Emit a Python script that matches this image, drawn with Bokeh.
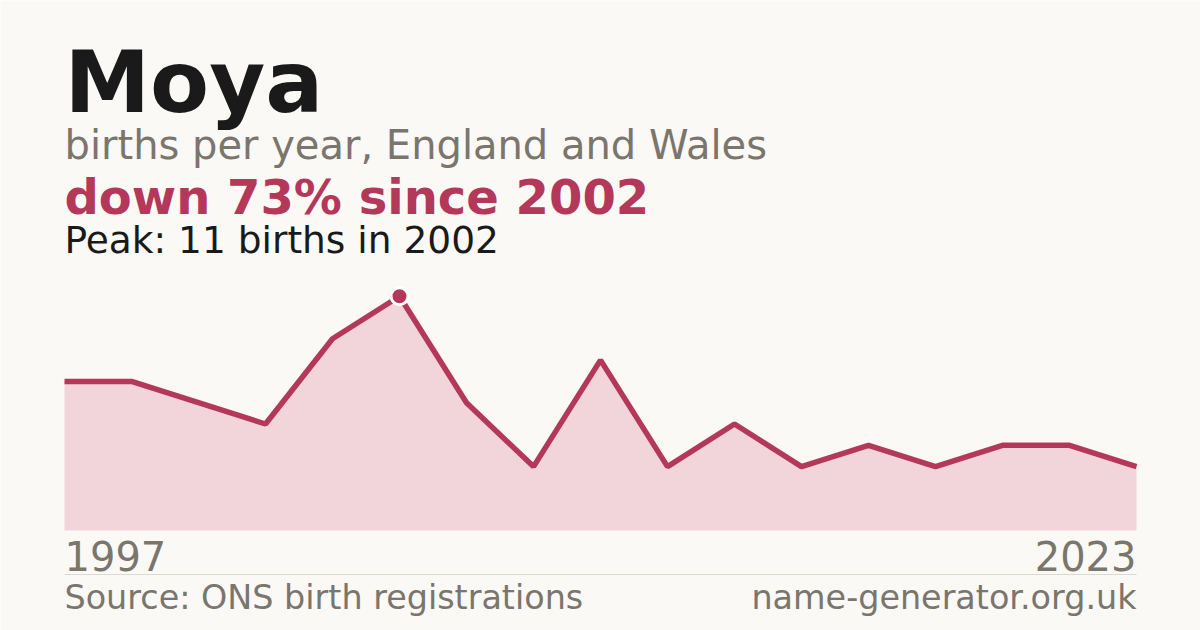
from bokeh.plotting import figure
from bokeh.models import ColumnDataSource, Range1d, Label, BoxAnnotation
from bokeh.embed import file_html
from bokeh.resources import INLINE

# data: births per year (years with data only, plotted evenly)
years = [1997, 1998, 1999, 2000, 2001, 2002, 2003, 2005, 2007, 2009,
         2011, 2013, 2015, 2017, 2019, 2021, 2023]
births = [7, 7, 6, 5, 9, 11, 6, 3, 8, 3, 5, 3, 4, 3, 4, 4, 3]

name = "Moya"
subtitle = "births per year, England and Wales"
source_text = "Source: ONS birth registrations"
site_text = "name-generator.org.uk"

peak = max(births)
peak_i = births.index(peak)
change = round((births[-1] - peak) / peak * 100)
headline = f"down {abs(change)}% since {years[peak_i]}"
peak_text = f"Peak: {peak} births in {years[peak_i]}"

BG = "#faf9f5"
INK = "#1a1a1a"
GREY = "#7a756d"
RED = "#b3385a"
FILL = "#f2d5da"
FONT = "DejaVu Sans"

W, H = 1200, 630
left_px, right_px = 64, 1136      # where first / last point sit
zero_px = 100                     # baseline of the area, from bottom
unit_px = 21.3                    # pixels per birth

idx = list(range(len(years)))
n = len(years) - 1
xstep = (right_px - left_px) / n

source = ColumnDataSource(dict(x=idx, y=births, zero=[0] * len(births)))

p = figure(width=W, height=H, toolbar_location=None, output_backend="svg",
           x_axis_location=None, y_axis_location=None, min_border=0,
           x_range=Range1d(-left_px / xstep, n + (W - right_px) / xstep),
           y_range=Range1d(-zero_px / unit_px, (H - zero_px) / unit_px))
p.background_fill_color = BG
p.border_fill_color = BG
p.outline_line_color = None
p.grid.visible = False

p.varea(x="x", y1="zero", y2="y", source=source, fill_color=FILL)
p.line(x="x", y="y", source=source, line_color=RED, line_width=5.5)
p.scatter(x=[peak_i], y=[peak], size=17, fill_color=RED,
          line_color="white", line_width=3)

def label(text, x, base, size, color, bold=False, align="left", x_units="screen"):
    # base = baseline height from bottom; small lift for how the svg sets baselines
    p.add_layout(Label(x=x, y=base + 0.37 * size, x_units=x_units, y_units="screen",
                       text=text, text_font=FONT, text_font_size=f"{size}px",
                       text_font_style="bold" if bold else "normal",
                       text_color=color, text_align=align,
                       text_baseline="alphabetic"))

label(name, left_px, 517, 86, INK, bold=True)
label(subtitle, left_px, 471, 40, GREY)
label(headline, left_px, 416, 48, RED, bold=True)
label(peak_text, left_px, 377, 37.5, INK)

label(str(years[0]), 0, 60, 40, GREY, x_units="data")
label(str(years[-1]), n, 60, 40, GREY, align="right", x_units="data")

p.add_layout(BoxAnnotation(left=0, right=n, bottom=55.5, top=56.5,
                           bottom_units="screen", top_units="screen",
                           fill_color="#dcd9d2", fill_alpha=1, line_color=None))

label(source_text, left_px, 21, 33.4, GREY)
label(site_text, right_px, 21, 33.4, GREY, align="right")

open("out.html", "w").write(file_html(p, INLINE))
